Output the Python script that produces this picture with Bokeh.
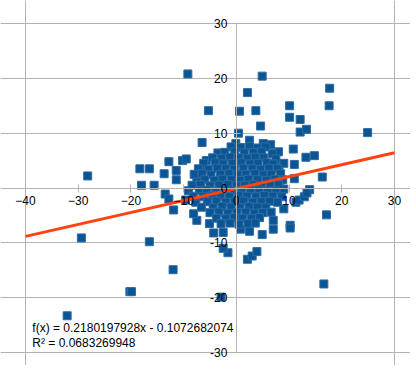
from bokeh.plotting import figure
from bokeh.models import Range1d, FixedTicker, Label, ColumnDataSource
from bokeh.embed import file_html
from bokeh.resources import INLINE

# ---- data ----
spread_x = [-9.2, 4.9, 2.1, 17.7, 17.6, 10.1, 10.1, 12.1, 12.1, 13.3, 24.9, -5.3, 0.6, 3.7, 4.6, 0.4,
            -6.5, -28.2, -18.3, -16.5, -18.0, -15.6, -12.8, -13.7, -11.4, -11.4, -10.2, -9.5, -3.5, -5.7,
            10.8, 8.0, 6.5, 5.1, 11.0, 13.2, 14.8, 16.3, 11.0, 13.9, 8.1, 7.2, 2.5, -0.1, -6.8, -7.5, -9.1,
            -29.4, -16.5, -12.0, -20.2, -19.9, -32.1, -2.9, 16.6, 17.1, 10.2, 10.2, 9.0, 7.0, 7.0, 4.9,
            2.5, 0.8, 2.1, 3.0, 3.9, -1.6, -2.5, -4.3, -2.5, -5.1, -7.5, -8.1, -11.9, -7.7, -13.5, -12.8,
            -9.6, 11.3, 11.9, 12.9, 13.4, 9.0, 8.3]
spread_y = [20.8, 20.4, 17.4, 18.2, 15.0, 15.0, 12.9, 12.5, 10.2, 10.7, 10.1, 14.1, 14.0, 14.1, 11.3, 10.0,
            8.3, 2.2, 3.5, 3.5, 0.5, 0.5, 4.8, 2.6, 3.2, 1.5, 5.0, 5.3, 6.4, 5.0,
            7.1, 6.6, 7.9, 8.1, 4.3, 5.6, 5.9, 2.0, 1.7, -0.3, 4.1, 3.8, 8.7, 8.1, 3.2, 1.4, -0.5,
            -9.1, -9.8, -14.9, -18.9, -18.9, -23.3, -19.9, -17.5, -4.9, -6.8, -7.3, -3.8, -5.9, -7.5, -8.5,
            -7.9, -7.5, -13.0, -12.4, -11.6, -11.8, -11.0, -8.2, -8.1, -6.5, -5.9, -4.7, -4.0, -2.6, -1.1, -2.0,
            -2.2, -2.6, -2.2, -1.6, -0.9, -0.2, 1.4]

core_x = [-1.0, 0.8, 2.5, 4.0, 5.5,
          -2.2, -0.3, 1.5, 3.2, 4.8, 6.8,
          -4.5, -2.8, -1.2, 0.4, 2.1, 3.6, 5.2, 7.5,
          -6.2, -4.0, -2.5, -0.8, 0.9, 2.6, 4.1, 5.8, 7.0, 9.0,
          -7.2, -5.3, -3.6, -2.0, -0.4, 1.3, 3.0, 4.6, 6.2, 7.8,
          -8.0, -6.5, -4.8, -3.0, -1.4, 0.2, 1.8, 3.5, 5.1, 6.6, 8.4,
          -6.0, -4.2, -2.6, -0.9, 0.7, 2.3, 4.0, 5.7, 7.3, 8.8,
          -8.4, -6.8, -5.0, -3.3, -1.6, 0.0, 1.6, 3.2, 4.8, 6.4, 8.0,
          -7.0, -5.6, -3.9, -2.2, -0.6, 1.0, 2.7, 4.3, 5.9, 7.5,
          -8.2, -6.3, -4.6, -3.0, -1.3, 0.4, 2.0, 3.7, 5.3, 6.9, 8.6,
          -5.5, -3.8, -2.0, -0.3, 1.4, 3.1, 4.7, 6.3, 7.8,
          -6.6, -4.4, -2.7, -1.0, 0.7, 2.4, 4.0, 5.6,
          -5.0, -3.3, -1.6, 0.1, 1.8, 3.4, 5.0, 6.6,
          -3.8, -2.0, -0.4, 1.2, 2.9, 4.4,
          -2.9, -1.2, 0.5, 2.2, 3.6]
core_y = [7.5, 7.4, 7.6, 7.3, 7.5,
          6.5, 6.6, 6.4, 6.5, 6.6, 6.3,
          5.5, 5.4, 5.6, 5.5, 5.4, 5.6, 5.5, 5.3,
          4.5, 4.6, 4.4, 4.5, 4.6, 4.4, 4.5, 4.6, 4.4, 4.5,
          3.5, 3.4, 3.6, 3.5, 3.4, 3.6, 3.5, 3.4, 3.6, 3.5,
          2.5, 2.6, 2.4, 2.5, 2.6, 2.4, 2.5, 2.6, 2.4, 2.5, 2.6,
          1.5, 1.4, 1.6, 1.5, 1.4, 1.6, 1.5, 1.4, 1.6, 1.5,
          0.5, 0.6, 0.4, 0.5, 0.6, 0.4, 0.5, 0.6, 0.4, 0.5, 0.6,
          -0.5, -0.4, -0.6, -0.5, -0.4, -0.6, -0.5, -0.4, -0.6, -0.5,
          -1.5, -1.6, -1.4, -1.5, -1.6, -1.4, -1.5, -1.6, -1.4, -1.5, -1.6,
          -2.5, -2.4, -2.6, -2.5, -2.4, -2.6, -2.5, -2.4, -2.6,
          -3.5, -3.6, -3.4, -3.5, -3.6, -3.4, -3.5, -3.6,
          -4.5, -4.4, -4.6, -4.5, -4.4, -4.6, -4.5, -4.4,
          -5.5, -5.6, -5.4, -5.5, -5.6, -5.4,
          -6.5, -6.4, -6.6, -6.5, -6.4]

trend_slope = 0.2180197928
trend_intercept = -0.1072682074
r_squared = 0.0683269948
x_ticks = [-40, -30, -20, -10, 0, 10, 20, 30]
y_ticks = [-30, -20, -10, 0, 10, 20, 30]

FONT = "Liberation Sans"
FONT_PX = 12
GRID = "#b3b3b3"
X_MIN, X_MAX, Y_MIN, Y_MAX = -40, 30, -30, 30

# The plotting frame fills the whole figure; the visible chart box (-40..30, -30..30)
# is drawn with bounded grids, so end tick labels are not clipped.
W, H = 410, 365
BOX_L, BOX_R, BOX_T, BOX_B = 25, 394, 23, 352   # pixel edges of the chart box
sx = (BOX_R - BOX_L) / (X_MAX - X_MIN)
sy = (BOX_B - BOX_T) / (Y_MAX - Y_MIN)
x_range = Range1d(X_MIN - BOX_L / sx, X_MAX + (W - BOX_R) / sx)
y_range = Range1d(Y_MIN - (H - BOX_B) / sy, Y_MAX + BOX_T / sy)

p = figure(width=W, height=H, output_backend="svg", toolbar_location=None,
           x_range=x_range, y_range=y_range, min_border=0,
           min_border_left=0, min_border_right=0, min_border_top=0, min_border_bottom=0)
p.background_fill_color = "white"
p.border_fill_color = "white"
p.outline_line_color = None

p.ygrid.ticker = FixedTicker(ticks=y_ticks)
p.ygrid.grid_line_color = GRID
p.ygrid.bounds = (X_MIN, X_MAX)
p.xgrid.ticker = FixedTicker(ticks=[X_MIN, X_MAX])
p.xgrid.grid_line_color = GRID
p.xgrid.bounds = (Y_MIN, Y_MAX)

for ax, ticks, bnds in ((p.xaxis, x_ticks, (X_MIN, X_MAX)), (p.yaxis, y_ticks, (Y_MIN, Y_MAX))):
    ax.fixed_location = 0
    ax.bounds = bnds
    ax.ticker = FixedTicker(ticks=ticks)
    ax.axis_line_color = GRID
    ax.major_tick_line_color = GRID
    ax.minor_tick_line_color = None
    ax.major_tick_in = 4
    ax.major_tick_out = 4
    ax.major_label_text_font = FONT
    ax.major_label_text_font_size = "%dpx" % FONT_PX
    ax.major_label_text_color = "black"
    ax.major_label_standoff = 4
# y tick labels are drawn as labels placed left of the axis
p.yaxis.major_label_text_color = None

src = ColumnDataSource(dict(x=spread_x + core_x, y=spread_y + core_y))
p.scatter("x", "y", source=src, marker="square", size=8,
          fill_color="#0a5593", line_color="#2f6ca3", line_width=1)

xs = [X_MIN, X_MAX]
p.line(xs, [trend_slope * v + trend_intercept for v in xs], line_color="#ff420e", line_width=3)

def text_width(s):
    # Liberation Sans (Arial metrics): digits 0.556 em, hyphen-minus 0.333 em
    return sum(0.333 if ch == "-" else 0.556 for ch in s) * FONT_PX

for t in y_ticks:
    s = str(t)
    p.add_layout(Label(x=0, y=t, x_offset=-9 - text_width(s), text=s, text_align="left",
                       text_baseline="middle", text_font=FONT, text_font_size="%dpx" % FONT_PX,
                       text_color="black"))

p.add_layout(Label(x=-38.7, y=-25.6, text="f(x) = %.10fx - %.10f" % (trend_slope, -trend_intercept),
                   text_font=FONT, text_font_size="%dpx" % FONT_PX, text_baseline="middle", text_color="black"))
p.add_layout(Label(x=-38.7, y=-28.3, text="R² = %.10f" % r_squared,
                   text_font=FONT, text_font_size="%dpx" % FONT_PX, text_baseline="middle", text_color="black"))

open("out.html", "w").write(file_html(p, INLINE))
